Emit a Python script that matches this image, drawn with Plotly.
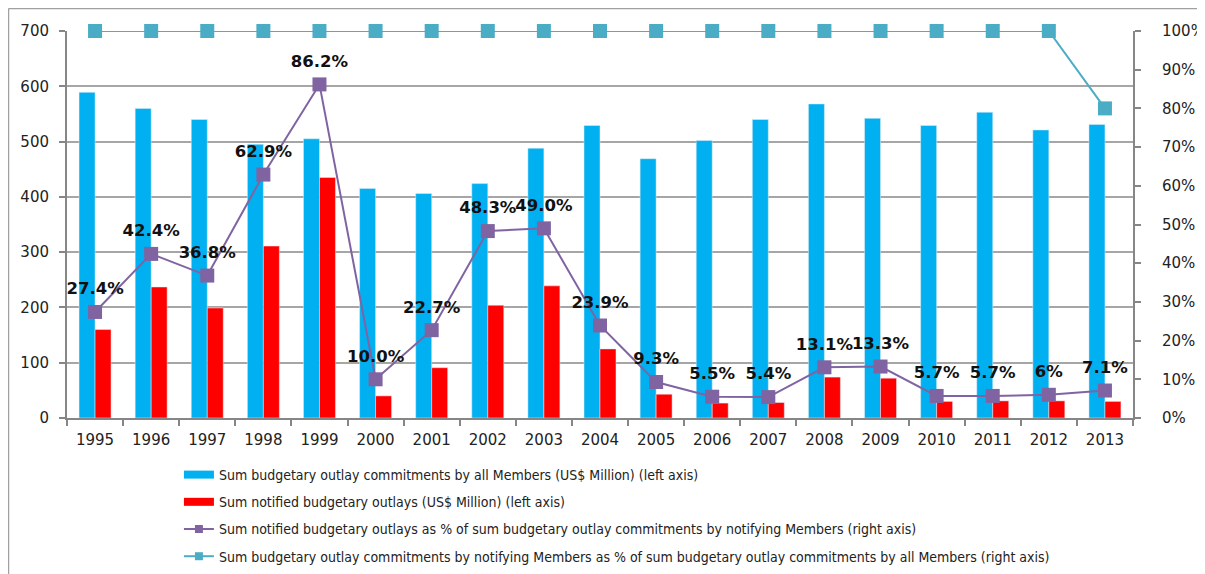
import plotly.graph_objects as go

years = [str(y) for y in range(1995, 2014)]
commit_all = [589, 560, 540, 495, 505, 415, 406, 424, 488, 529, 469, 502, 540, 568, 542, 529, 553, 521, 531]
notified = [160, 237, 199, 311, 435, 40, 91, 204, 239, 125, 43, 27, 28, 74, 72, 30, 31, 31, 30]
pct_notified = [27.4, 42.4, 36.8, 62.9, 86.2, 10.0, 22.7, 48.3, 49.0, 23.9, 9.3, 5.5, 5.4, 13.1, 13.3, 5.7, 5.7, 6, 7.1]
pct_labels = ["27.4%", "42.4%", "36.8%", "62.9%", "86.2%", "10.0%", "22.7%", "48.3%", "49.0%", "23.9%",
              "9.3%", "5.5%", "5.4%", "13.1%", "13.3%", "5.7%", "5.7%", "6%", "7.1%"]
pct_notifying = [100] * 18 + [80]

names = [
    "Sum budgetary outlay commitments by all Members (US$ Million) (left axis)",
    "Sum notified budgetary outlays (US$ Million) (left axis)",
    "Sum notified budgetary outlays as % of sum budgetary outlay commitments by notifying Members (right axis)",
    "Sum budgetary outlay commitments by notifying Members as % of sum budgetary outlay commitments by all Members (right axis)",
]
BLUE, RED, PURPLE, TEAL = "#00B0F0", "#FF0000", "#8064A2", "#4BACC6"

pct_frac = [v / 100 for v in pct_notified]

fig = go.Figure()
fig.add_trace(go.Bar(x=years, y=commit_all, name=names[0], marker_color=BLUE, showlegend=False))
fig.add_trace(go.Bar(x=years, y=notified, name=names[1], marker_color=RED, showlegend=False))
fig.add_trace(go.Scatter(x=years, y=pct_frac, name=names[2], yaxis="y2",
                         mode="lines+markers", showlegend=False,
                         line=dict(color=PURPLE, width=2), marker=dict(symbol="square", size=14, color=PURPLE),
                         cliponaxis=False))
fig.add_trace(go.Scatter(x=years, y=[v / 100 for v in pct_notifying], name=names[3], yaxis="y2",
                         mode="lines+markers", showlegend=False,
                         line=dict(color=TEAL, width=2), marker=dict(symbol="square", size=14, color=TEAL),
                         cliponaxis=False))
# data labels (invisible marker pushes text above the point)
fig.add_trace(go.Scatter(x=years, y=pct_frac, yaxis="y2", mode="markers+text", text=pct_labels,
                         textposition="top center", showlegend=False, hoverinfo="skip",
                         marker=dict(size=20, color="rgba(0,0,0,0)"),
                         textfont=dict(family="DejaVu Sans", size=16.5, color="#111111", weight="bold"),
                         cliponaxis=False))

# legend entries (Excel-style wide swatches)
fig.add_trace(go.Scatter(x=[None], y=[None], mode="lines", name=names[0],
                         line=dict(color=BLUE, width=8), legendgroup="a"))
fig.add_trace(go.Scatter(x=[None], y=[None], mode="lines", name=names[1],
                         line=dict(color=RED, width=8), legendgroup="b"))
fig.add_trace(go.Scatter(x=[None], y=[None], mode="lines+markers", name=names[2],
                         line=dict(color=PURPLE, width=2), marker=dict(symbol="square", size=8, color=PURPLE),
                         legendgroup="c"))
fig.add_trace(go.Scatter(x=[None], y=[None], mode="lines+markers", name=names[3],
                         line=dict(color=TEAL, width=2), marker=dict(symbol="square", size=8, color=TEAL),
                         legendgroup="d"))

axis_col = "#868686"
tick_font = dict(family="DejaVu Sans", size=15, color="#222222")
fig.update_layout(
    width=1197, height=566,
    margin=dict(l=59, r=72, t=23, b=156, autoexpand=False),
    paper_bgcolor="white", plot_bgcolor="white",
    barmode="group", bargap=0.43, bargroupgap=0,
    font=dict(family="DejaVu Sans", size=15, color="#222222"),
    xaxis=dict(type="category", range=[-0.5, 18.5], showline=True, linecolor=axis_col, linewidth=2,
               ticks="outside", tickson="boundaries", tickcolor=axis_col, ticklen=6, tickwidth=1.5,
               showgrid=False, tickfont=tick_font, ticklabelstandoff=7),
    yaxis=dict(range=[0, 700], dtick=100, showline=True, linecolor=axis_col, linewidth=2, ticks="outside",
               tickcolor=axis_col, ticklen=6, tickwidth=1.5, showgrid=True, gridcolor="#A6A6A6", gridwidth=1.5,
               zeroline=False, tickfont=tick_font, ticklabelstandoff=7),
    yaxis2=dict(range=[0, 1], dtick=0.1, tickformat=".0%", overlaying="y", side="right", showline=True,
                linecolor=axis_col, linewidth=2, ticks="outside", tickcolor=axis_col, ticklen=6, tickwidth=1.5,
                showgrid=False, zeroline=False, tickfont=tick_font, ticklabelstandoff=18),
    legend=dict(orientation="v", x=0.105, xanchor="left", y=-0.106, yanchor="top",
                font=dict(family="Liberation Sans Narrow, Arial Narrow, DejaVu Sans Condensed", size=14,
                          color="#222222"),
                tracegroupgap=6, bgcolor="rgba(0,0,0,0)"),
    shapes=[
        dict(type="line", xref="paper", yref="paper", x0=-0.0549, x1=1.2, y0=1.058, y1=1.058,
             line=dict(color="#A0A0A0", width=1.5)),
        dict(type="line", xref="paper", yref="paper", x0=-0.0549, x1=-0.0549, y0=1.058, y1=-0.5,
             line=dict(color="#A0A0A0", width=1.5)),
    ],
)

fig.write_html("out.html")
